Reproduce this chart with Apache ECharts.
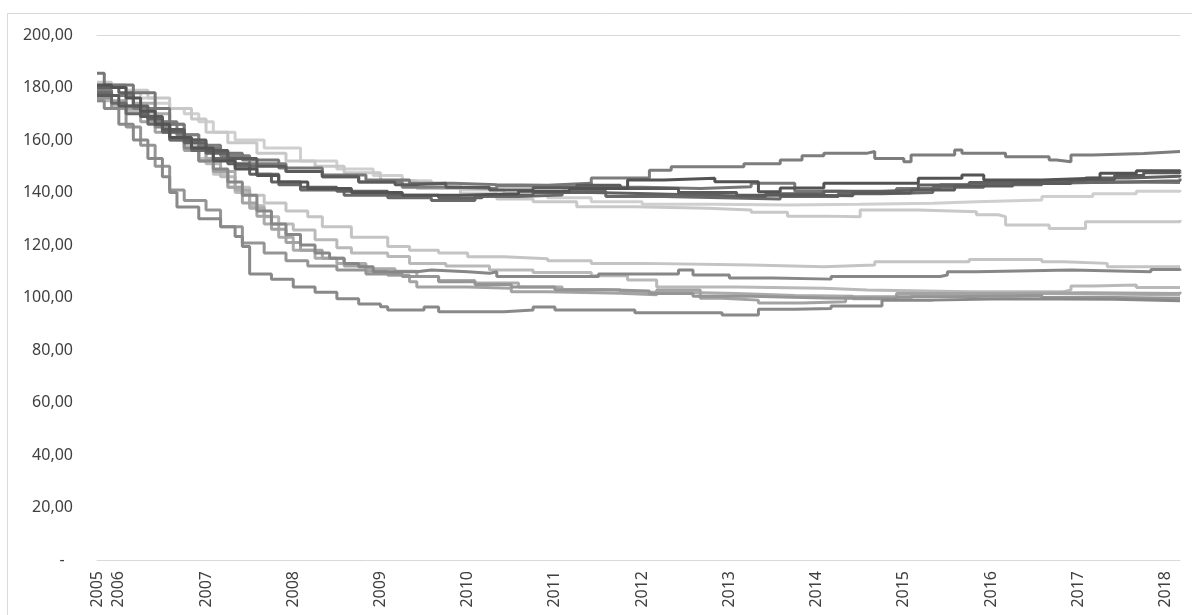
<!DOCTYPE html>
<html>
<head>
<meta charset="utf-8">
<script src="https://cdn.jsdelivr.net/npm/echarts@6/dist/echarts.min.js"></script>
<style>
html,body{margin:0;padding:0;background:#fff;}
#chart{width:1192px;height:615px;}
</style>
</head>
<body>
<div id="chart"></div>
<script>
// Axis: monthly categories from Oct 2005 to Mar 2018
const startYear = 2005, startMonth = 10, monthCount = 150;
const yTicks = [0, 20, 40, 60, 80, 100, 120, 140, 160, 180, 200];

// Series values: [month index, value] at each change point (step lines)
const t1 = [[0,179],[2,177],[5,172],[8,167],[11,162],[14,158],[17,154],[21,151],[26,148],[31,146],[36,144],[42,142],[48,141.5],[55,142.5],[62,142],[68,145.5],[76,148.5],[79,149.8],[89,151],[94,152.4],[97,154],[100,155],[106,155.6],[107,153],[111,151.7],[112,154.3],[118,156.2],[119,155],[125,153.6],[131,152.4],[132,151.7],[134,154.3],[137,154.9],[144,155.6],[149,155.6]];
const t2 = [[0,181],[2,180],[4,176],[6,171],[8,166],[10,161],[13,157],[16,152],[19,149],[22,146.5],[25,144],[29,141.5],[35,140],[42,139],[50,139.5],[58,140.5],[65,141.5],[73,144.8],[78,145.4],[85,144.1],[91,140.3],[94,141.7],[100,143.5],[113,145.4],[119,146.7],[122,144.8],[130,145.5],[138,147.3],[143,148.3],[149,148]];
const t3 = [[0,180],[3,178],[5,173],[7,168],[9,163],[12,159],[15,155],[18,151],[21,147],[24,144],[28,142],[33,140.5],[40,139],[47,138],[53,139],[60,140],[68,139.5],[76,139],[84,138.5],[92,139.5],[100,140.5],[108,141],[113,142.9],[120,143.8],[128,144.5],[136,145.5],[142,146.2],[149,146.7]];
const t4 = [[0,178],[2,174],[4,170],[7,166],[10,160],[13,156],[16,153],[19,150],[22,147],[25,143],[28,141],[34,139],[40,138],[46,137],[52,138.5],[58,139],[64,140.5],[70,138.5],[78,138],[86,137.5],[94,138.5],[102,139.5],[108,140],[115,142],[122,143],[130,143.8],[138,144.5],[149,145.3]];
const t5 = [[0,185.4],[1,181],[5,178],[8,172],[10,166],[12,160],[14,157],[17,155],[20,152.4],[25,149.3],[31,146.7],[37,144.8],[43,143.5],[49,143],[55,142.8],[62,143.5],[68,142],[75,141.5],[83,142.2],[90,143.5],[96,140.5],[102,140],[110,141.5],[116,143],[124,143.5],[132,144],[140,143.8],[149,144]];
const t6 = [[0,177],[3,173],[6,169],[9,164],[12,160],[15,156],[18,153],[22,150],[26,148],[31,146],[36,144],[41,143],[44,143.5],[48,142],[54,141],[60,141.8],[66,142.8],[72,141.5],[80,140],[88,139],[96,138.8],[104,139.8],[112,141],[118,142.5],[126,143.4],[134,145],[140,146.5],[144,147.5],[149,147.2]];
const t7 = [[0,180],[2,180],[4,178],[6,176],[8,174],[10,172],[12,170],[14,167],[16,163],[19,160],[23,157],[28,152],[33,149],[38,146.5],[42,144.5],[46,143],[50,141],[56,139.5],[62,138],[68,136.5],[75,135.5],[85,135.2],[95,135.5],[105,135.9],[115,136.5],[121,137.1],[130,138.5],[137,139.5],[143,140.5],[149,141]];
const t8 = [[0,182],[2,181],[4,179],[7,176],[10,172],[13,168],[15,163],[18,159],[22,155],[26,152],[30,150],[34,147.5],[39,144.5],[44,141.5],[50,139.5],[55,137.5],[60,136.5],[66,134.6],[74,134],[84,133.3],[90,132.5],[95,131],[100,130.8],[105,133.3],[113,132.7],[121,131.5],[124,130.8],[125,127.6],[131,126.3],[136,128.9],[149,129.5]];
const b1 = [[0,176],[2,174],[4,172],[6,170],[8,167],[10,163],[12,158],[14,153],[16,147],[18,142],[21,139],[23,136],[26,133],[29,130.8],[31,127],[35,123],[40,119.4],[43,118],[47,117],[51,115.5],[56,114.8],[62,114],[68,113],[75,112.4],[90,111.7],[100,112.4],[107,113.6],[120,114.5],[130,113.6],[133,113],[139,111.7],[149,111.5]];
const b2 = [[0,175],[2,173],[4,171],[7,168],[9,164],[11,160],[13,156],[15,151],[17,146],[19,140],[21,135],[23,130.8],[25,128],[27,125.7],[30,122],[33,119],[35,117],[40,115.6],[43,113],[48,112],[54,110.5],[60,109.5],[68,108.3],[73,106.7],[77,104],[88,103.5],[100,102.9],[106,102.2],[120,102.2],[133,102.9],[134,104.4],[137,104.8],[143,103.8],[149,103.9]];
const b3 = [[0,179],[2,177],[4,173],[6,169],[8,165],[10,161],[12,157],[14,152],[16,149],[18,144],[20,139],[22,133],[24,128],[26,124],[28,120],[30,117],[32,115],[34,113],[36,111.7],[38,109.8],[44,110.5],[46,109.8],[51,109.2],[54,109.8],[55,108],[69,109],[80,110.5],[82,108.6],[87,107.4],[93,107],[101,108],[116,108.6],[117,109.8],[121,110.5],[134,109.8],[145,110.7],[149,110.2]];
const b4 = [[0,177],[2,175],[4,172],[6,167],[8,163],[10,160],[12,156],[14,152],[16,148],[18,142],[20,136],[22,131],[24,126],[26,121],[28,118],[31,115],[34,112],[37,110],[40,108.5],[43,106],[44,104],[51,103.5],[57,102.2],[62,101.6],[72,101],[77,102.9],[83,99.7],[86,99],[91,97.9],[97,98.4],[103,100.3],[110,101.5],[125,101.8],[136,101.5],[149,102.2]];
const b5 = [[0,176],[2,172],[4,165],[6,158],[8,150],[10,141],[12,137],[15,133.3],[17,127],[20,120.8],[23,117],[26,114],[29,112],[33,110.5],[37,109],[42,108],[47,106],[52,105],[57,104],[63,103],[70,102.5],[76,101.5],[82,100.5],[90,99.8],[100,99.5],[110,100.3],[118,100.8],[130,100],[140,99.7],[149,99.7]];
const b6 = [[0,179],[2,177],[5,174],[8,170],[10,166],[12,162],[14,158],[15,153],[17,148],[19,141],[21,134],[23,128],[25,123],[27,118],[30,115],[33,113],[37,111],[41,110],[44,108],[47,106.5],[52,105.5],[58,104],[64,103],[72,102],[80,101.5],[88,100.8],[96,100.5],[104,99.5],[112,100.5],[120,101.5],[130,101],[149,101]];
const b7 = [[0,175],[1,172],[3,166],[5,160],[7,153],[9,146],[10,140],[11,134.5],[14,130],[17,127],[19,123.2],[20,119.4],[21,109],[24,107],[27,104],[30,102],[33,99.5],[36,97.5],[39,96.5],[40,95.2],[45,96.4],[47,94.6],[56,95.2],[60,96.4],[63,95.2],[74,94.2],[86,93.3],[91,95.5],[96,95.8],[101,96.8],[108,99],[115,99.5],[125,99.3],[140,98.8],[149,98.8]];

const seriesList = [
  {name:'T7', data:t7, color:'#cfcfcf'},
  {name:'T8', data:t8, color:'#c8c8c8'},
  {name:'B1', data:b1, color:'#c4c4c4'},
  {name:'B2', data:b2, color:'#b9b9b9'},
  {name:'B6', data:b6, color:'#ababab'},
  {name:'B4', data:b4, color:'#a3a3a3'},
  {name:'B5', data:b5, color:'#959595'},
  {name:'B3', data:b3, color:'#878787'},
  {name:'B7', data:b7, color:'#898989'},
  {name:'T1', data:t1, color:'#7d7d7d'},
  {name:'T5', data:t5, color:'#777777'},
  {name:'T4', data:t4, color:'#696969'},
  {name:'T3', data:t3, color:'#616161'},
  {name:'T6', data:t6, color:'#5b5b5b'},
  {name:'T2', data:t2, color:'#535353'}
];

const months = [];
for (let i = 0; i < monthCount; i++) {
  const m = startMonth - 1 + i;
  const y = startYear + Math.floor(m / 12);
  const mm = (m % 12) + 1;
  months.push(y + '-' + (mm < 10 ? '0' + mm : mm));
}

const chart = echarts.init(document.getElementById('chart'), null, {renderer:'canvas'});
chart.setOption({
  animation: false,
  backgroundColor: '#ffffff',
  graphic: [{
    type: 'rect', silent: true,
    shape: {x: 7.5, y: 13.5, width: 1200, height: 620},
    style: {fill: 'none', stroke: '#d9d9d9', lineWidth: 1}
  }],
  grid: {left: 97, right: 12, top: 35, bottom: 55, containLabel: false},
  xAxis: [{
    type: 'category',
    data: months,
    boundaryGap: false,
    axisLine: {lineStyle: {color: '#d9d9d9', width: 1}},
    axisTick: {show: false},
    splitLine: {show: false},
    axisLabel: {
      rotate: 90,
      margin: 11,
      color: '#404040',
      fontSize: 16,
      fontFamily: 'Noto Sans',
      interval: function (index, value) { return index === 0 || value.slice(5) === '01'; },
      formatter: function (value) { return value.slice(0, 4); }
    }
  }, {
    type: 'category',
    data: months,
    position: 'top',
    boundaryGap: false,
    axisLine: {lineStyle: {color: '#d9d9d9', width: 1}},
    axisTick: {show: false},
    axisLabel: {show: false}
  }],
  yAxis: {
    type: 'value',
    min: yTicks[0],
    max: yTicks[yTicks.length - 1],
    interval: 20,
    axisLine: {show: false},
    axisTick: {show: false},
    splitLine: {show: false},
    axisLabel: {
      margin: 24,
      color: '#404040',
      fontSize: 16,
      fontFamily: 'Noto Sans',
      formatter: function (v) { return v === 0 ? '-  ' : v.toFixed(2).replace('.', ','); }
    }
  },
  series: seriesList.map(function (s) {
    return {
      type: 'line',
      name: s.name,
      step: 'end',
      data: s.data,
      showSymbol: false,
      symbol: 'none',
      lineStyle: {color: s.color, width: 3},
      itemStyle: {color: s.color},
      emphasis: {disabled: true}
    };
  })
});
</script>
</body>
</html>
